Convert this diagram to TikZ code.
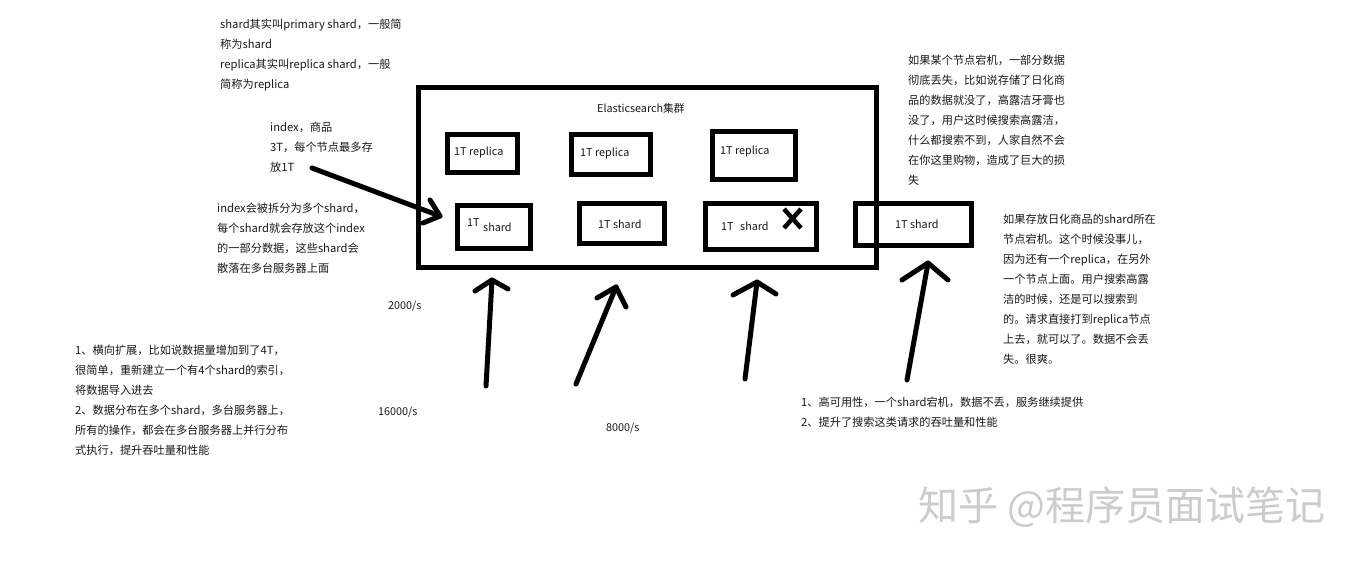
\documentclass[tikz,border=0pt]{standalone}
\usepackage{fontspec}
\newfontfamily\cjk{Noto Sans CJK SC}
\begin{document}
\begin{tikzpicture}[x=1pt,y=-1pt,
  txt/.style={font=\cjk\fontsize{11.2}{20}\selectfont, inner sep=0pt, align=left, anchor=north west, text=black!90},
  lbl/.style={font=\cjk\fontsize{10.8}{20}\selectfont, inner sep=0pt, anchor=west, text=black!90},
  thick box/.style={draw=black, line width=5pt, line join=miter},
  pen/.style={draw=black, line width=5pt, line cap=round, line join=round},
  wmark/.style={font=\cjk\fontsize{40}{42}\selectfont, text=black!20, inner sep=0pt, anchor=west}
]
\useasboundingbox (0,0) rectangle (1360,561);
\fill[white] (0,0) rectangle (1360,561);

% cluster box
\draw[thick box] (418,88) rectangle (876,268);
\node[lbl, anchor=center] (title) at (641,108) {Elasticsearch集群};

% replica boxes
\draw[thick box] (447,135) rectangle (517,173);
\node[lbl] (r1) at (454,152) {1T replica};
\draw[thick box] (571,135) rectangle (650,175);
\node[lbl] (r2) at (580,153) {1T replica};
\draw[thick box] (712,132) rectangle (795,180);
\node[lbl] (r3) at (720,151) {1T replica};

% shard boxes
\draw[thick box] (457,206) rectangle (530,249);
\node[lbl] (s1a) at (467,223) {1T};
\node[lbl] (s1b) at (483,227) {shard};
\coordinate (s1in) at (440,216);
\draw[thick box] (579,204) rectangle (664,244);
\node[lbl] (s2) at (598,224) {1T shard};
\draw[thick box] (705,204) rectangle (816,250);
\node[lbl] (s3a) at (721,227) {1T};
\node[lbl] (s3b) at (740,226) {shard};
\draw[line width=4.5pt] (784,209) -- (801,228) (801,209) -- (784,228);
\draw[thick box] (855,204) rectangle (971,246);
\node[lbl] (s4) at (895,224) {1T shard};

% annotation arrow into first shard
\coordinate (ia) at (312,168);
\draw[pen] (ia) -- (s1in);
\draw[pen] (430,200) -- (s1in) -- (423,223);

% upward arrows
\coordinate (t1) at (486,386); \coordinate (h1) at (492,280);
\draw[pen] (t1) -- (h1); \draw[pen] (475,291) -- (h1) -- (508,289);
\coordinate (t2) at (576,384); \coordinate (h2) at (616,287);
\draw[pen] (t2) -- (h2); \draw[pen] (597,298) -- (h2) -- (626,307);
\coordinate (t3) at (745,379); \coordinate (h3) at (757,282);
\draw[pen] (t3) -- (h3); \draw[pen] (733,295) -- (h3) -- (776,294);
\coordinate (t4) at (907,380); \coordinate (h4) at (928,263);
\draw[pen] (t4) -- (h4); \draw[pen] (902,280) -- (h4) -- (948,280);

% texts
\node[txt] (n1) at (220,19) {shard其实叫primary shard，一般简\\称为shard\\replica其实叫replica shard，一般\\简称为replica};
\node[txt] (n2) at (270,122) {index，商品\\3T，每个节点最多存\\放1T};
\node[txt] (n3) at (217,203) {index会被拆分为多个shard，\\每个shard就会存放这个index\\的一部分数据，这些shard会\\散落在多台服务器上面};
\node[txt] (n4) at (908,55) {如果某个节点宕机，一部分数据\\彻底丢失，比如说存储了日化商\\品的数据就没了，高露洁牙膏也\\没了，用户这时候搜索高露洁，\\什么都搜索不到，人家自然不会\\在你这里购物，造成了巨大的损\\失};
\node[txt] (n5) at (1003,214) {如果存放日化商品的shard所在\\节点宕机。这个时候没事儿，\\因为还有一个replica，在另外\\一个节点上面。用户搜索高露\\洁的时候，还是可以搜索到\\的。请求直接打到replica节点\\上去，就可以了。数据不会丢\\失。很爽。};
\node[txt] (n6) at (75,345) {1、横向扩展，比如说数据量增加到了4T，\\很简单，重新建立一个有4个shard的索引，\\将数据导入进去\\2、数据分布在多个shard，多台服务器上，\\所有的操作，都会在多台服务器上并行分布\\式执行，提升吞吐量和性能};
\node[txt] (n7) at (801,397) {1、高可用性，一个shard宕机，数据不丢，服务继续提供\\2、提升了搜索这类请求的吞吐量和性能};
\node[lbl] (q1) at (388,306) {2000/s};
\node[lbl] (q2) at (378,412) {16000/s};
\node[lbl] (q3) at (606,428) {8000/s};

% watermark
\node[wmark] (wm) at (918,507) {知乎 @程序员面试笔记};
\end{tikzpicture}
\end{document}
